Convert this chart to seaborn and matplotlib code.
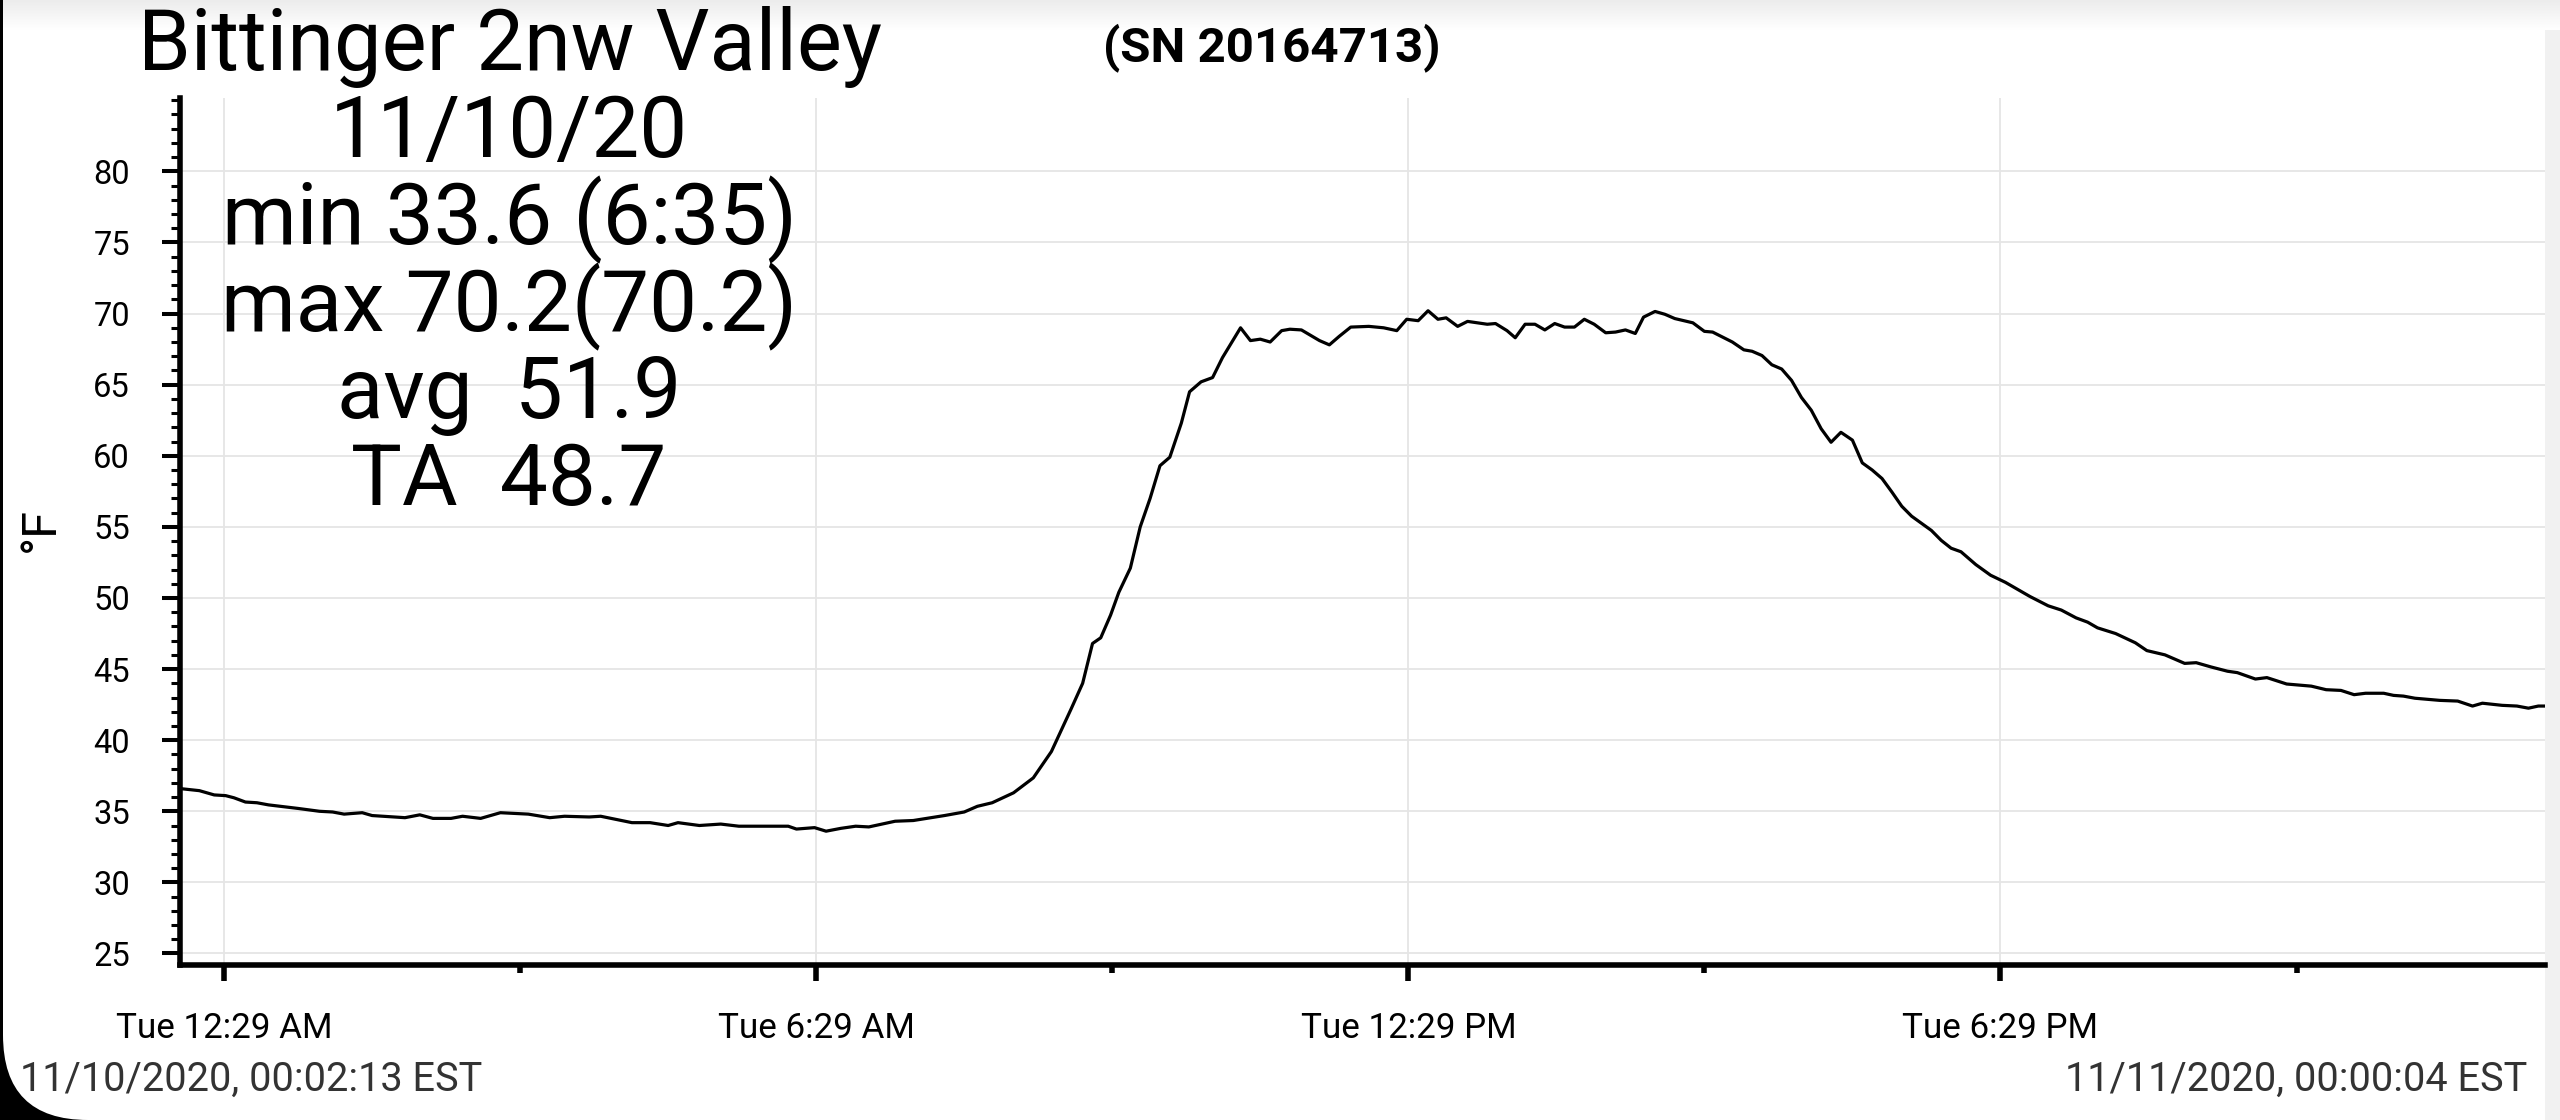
import numpy as np
import pandas as pd
import matplotlib
matplotlib.use("Agg")
import matplotlib.pyplot as plt
import seaborn as sns
from matplotlib.patches import FancyBboxPatch, Rectangle
from matplotlib.transforms import IdentityTransform
from matplotlib.colors import LinearSegmentedColormap

# logger readings (time of day, deg F)
times = [
    "00:02", "00:14", "00:23", "00:30", "00:35", "00:42", "00:49", "00:56", "01:14", "01:27",
    "01:35", "01:42", "01:53", "01:59", "02:19", "02:28", "02:36", "02:47", "02:54", "03:05",
    "03:17", "03:34", "03:47", "03:56", "04:11", "04:18", "04:37", "04:48", "04:59", "05:05",
    "05:18", "05:31", "05:42", "06:12", "06:17", "06:28", "06:35", "06:44", "06:53", "07:01",
    "07:17", "07:28", "07:47", "07:59", "08:07", "08:16", "08:29", "08:41", "08:52", "09:04",
    "09:11", "09:17", "09:22", "09:28", "09:33", "09:40", "09:46", "09:52", "09:58", "10:04",
    "10:11", "10:16", "10:23", "10:30", "10:36", "10:47", "10:53", "10:59", "11:05", "11:12",
    "11:17", "11:24", "11:35", "11:41", "11:47", "11:54", "12:05", "12:14", "12:22", "12:28",
    "12:35", "12:41", "12:47", "12:52", "12:59", "13:05", "13:11", "13:17", "13:22", "13:29",
    "13:34", "13:40", "13:46", "13:52", "13:58", "14:04", "14:10", "14:16", "14:22", "14:29",
    "14:35", "14:41", "14:47", "14:52", "14:59", "15:05", "15:11", "15:22", "15:29", "15:34",
    "15:46", "15:53", "15:58", "16:04", "16:10", "16:16", "16:22", "16:28", "16:34", "16:40",
    "16:46", "16:52", "16:59", "17:05", "17:11", "17:17", "17:23", "17:29", "17:35", "17:41",
    "17:47", "17:53", "17:59", "18:05", "18:14", "18:23", "18:32", "18:47", "18:58", "19:06",
    "19:15", "19:22", "19:28", "19:39", "19:51", "19:58", "20:09", "20:21", "20:28", "20:37",
    "20:47", "20:53", "21:04", "21:11", "21:23", "21:38", "21:47", "21:56", "22:04", "22:11",
    "22:22", "22:28", "22:34", "22:41", "22:56", "23:07", "23:16", "23:22", "23:34", "23:43",
    "23:50", "23:56", "24:00",
]
temps = [
    36.6, 36.45, 36.15, 36.1, 35.95, 35.65, 35.6, 35.45, 35.2, 35.0,
    34.95, 34.8, 34.9, 34.7, 34.55, 34.75, 34.5, 34.5, 34.65, 34.5,
    34.9, 34.8, 34.55, 34.65, 34.6, 34.65, 34.2, 34.2, 34.0, 34.2,
    34.0, 34.1, 33.95, 33.95, 33.75, 33.85, 33.6, 33.8, 33.95, 33.9,
    34.3, 34.35, 34.7, 34.95, 35.35, 35.6, 36.3, 37.35, 39.2, 42.2,
    44.0, 46.8, 47.2, 48.8, 50.4, 52.1, 55.0, 57.0, 59.3, 59.9,
    62.3, 64.5, 65.2, 65.5, 66.9, 69.0, 68.1, 68.2, 68.0, 68.8,
    68.9, 68.85, 68.1, 67.8, 68.4, 69.05, 69.1, 69.0, 68.8, 69.6,
    69.5, 70.2, 69.6, 69.7, 69.1, 69.45, 69.35, 69.25, 69.3, 68.8,
    68.3, 69.25, 69.25, 68.85, 69.3, 69.05, 69.05, 69.6, 69.25, 68.65,
    68.7, 68.85, 68.6, 69.75, 70.15, 69.95, 69.65, 69.35, 68.75, 68.7,
    68.0, 67.45, 67.35, 67.05, 66.4, 66.1, 65.3, 64.1, 63.2, 61.9,
    60.95, 61.65, 61.1, 59.5, 59.0, 58.4, 57.45, 56.45, 55.75, 55.25,
    54.75, 54.05, 53.5, 53.25, 52.35, 51.6, 51.1, 50.1, 49.45, 49.15,
    48.6, 48.3, 47.9, 47.5, 46.85, 46.3, 46.0, 45.4, 45.45, 45.15,
    44.85, 44.75, 44.3, 44.4, 43.95, 43.8, 43.55, 43.5, 43.2, 43.3,
    43.3, 43.15, 43.1, 42.95, 42.8, 42.75, 42.4, 42.6, 42.45, 42.4,
    42.25, 42.4, 42.4,
]

day = "2020-11-10"
x_start = "2020-11-10 00:02:13"
x_end = "2020-11-11 00:00:04"
major_times = ["00:29", "06:29", "12:29", "18:29"]
major_labels = ["Tue 12:29 AM", "Tue 6:29 AM", "Tue 12:29 PM", "Tue 6:29 PM"]
minor_times = ["03:29", "09:29", "15:29", "21:29"]
y_ticks = [25, 30, 35, 40, 45, 50, 55, 60, 65, 70, 75, 80]

title = "Bittinger 2nw Valley"
serial = "(SN 20164713)"
stats_lines = ["11/10/20", "min 33.6 (6:35)", "max 70.2(70.2)", "avg  51.9", "TA  48.7"]
left_stamp = "11/10/2020, 00:02:13 EST"
right_stamp = "11/11/2020, 00:00:04 EST"


def to_dt(hhmm):
    return pd.Timestamp(day) + pd.to_timedelta(hhmm + ":00")


df = pd.DataFrame({"time": [to_dt(t) for t in times], "temp": temps})

sns.set_theme(style="white")
plt.rcParams["font.family"] = ["Roboto", "DejaVu Sans"]

W, H = 2560, 1120
fig = plt.figure(figsize=(W / 100, H / 100), dpi=100)
fig.patch.set_facecolor("black")

# white screen panel with rounded bottom-left corner, grey scroll strip on the right
panel = FancyBboxPatch((3, 0), 2800, 1500, boxstyle="round,pad=0,rounding_size=85",
                       transform=IdentityTransform(), facecolor="white", edgecolor="none", zorder=-3)
fig.add_artist(panel)
fig.add_artist(Rectangle((2545, 0), 20, H, transform=IdentityTransform(),
                         facecolor="#f1f1f1", edgecolor="none", zorder=-2))

# faint shadow along the top edge
gax = fig.add_axes([3 / W, 1 - 30 / H, 1, 30 / H], zorder=-1)
gax.imshow(np.linspace(0, 1, 60).reshape(-1, 1), aspect="auto",
           cmap=LinearSegmentedColormap.from_list("sh", ["#ececec", "#ffffff"]))
gax.axis("off")

ax = fig.add_axes([180 / W, 155 / H, (2545 - 180) / W, (965 - 98) / H])
ax.set_facecolor("white")
sns.lineplot(data=df, x="time", y="temp", ax=ax, color="black", linewidth=2.3, estimator=None)

ax.set_xlim(pd.Timestamp(x_start), pd.Timestamp(x_end))
ax.set_ylim(24.19, 85.16)

ax.set_xticks([to_dt(t) for t in major_times])
ax.set_xticklabels(major_labels)
ax.set_xticks([to_dt(t) for t in minor_times], minor=True)
ax.set_yticks(y_ticks)
ax.set_yticks(np.arange(25, 86, 1), minor=True)

for s in ["top", "right"]:
    ax.spines[s].set_visible(False)
for s in ["left", "bottom"]:
    ax.spines[s].set_linewidth(4)
    ax.spines[s].set_color("black")

ax.tick_params(axis="y", which="major", direction="out", length=13, width=2.9,
               color="black", labelsize=23.5, pad=23, labelcolor="black")
ax.tick_params(axis="y", which="minor", direction="out", length=6.5, width=2.2, color="black")
ax.tick_params(axis="x", which="major", direction="out", length=11.5, width=4,
               color="black", labelsize=25.2, pad=22, labelcolor="black")
ax.tick_params(axis="x", which="minor", direction="out", length=6, width=4, color="black")
ax.tick_params(left=True, bottom=True)
ax.tick_params(which="minor", left=True, bottom=True)

ax.grid(True, which="major", color="#e5e5e5", linewidth=1.3)
ax.set_axisbelow(True)

ax.set_xlabel("")
ax.set_ylabel("")
fig.text(41 / W, 1 - 529 / H, "°F", rotation=90, ha="center", va="center",
         fontsize=35, color="black")

fig.text(510 / W, 1 - 70 / H, title, ha="center", va="baseline", fontsize=61, color="black")
fig.text(1272 / W, 1 - 61 / H, serial, ha="center", va="baseline", fontsize=35.5,
         fontweight="bold", color="black")
for i, line in enumerate(stats_lines):
    fig.text(509 / W, 1 - (157 + 87 * i) / H, line, ha="center", va="baseline",
             fontsize=61.5, color="black")

fig.text(20 / W, 1 - 1091 / H, left_stamp, ha="left", va="baseline", fontsize=28.5, color="#333333")
fig.text(2527 / W, 1 - 1091 / H, right_stamp, ha="right", va="baseline", fontsize=28.5, color="#333333")

fig.savefig("out.png", dpi=100, facecolor=fig.get_facecolor())
